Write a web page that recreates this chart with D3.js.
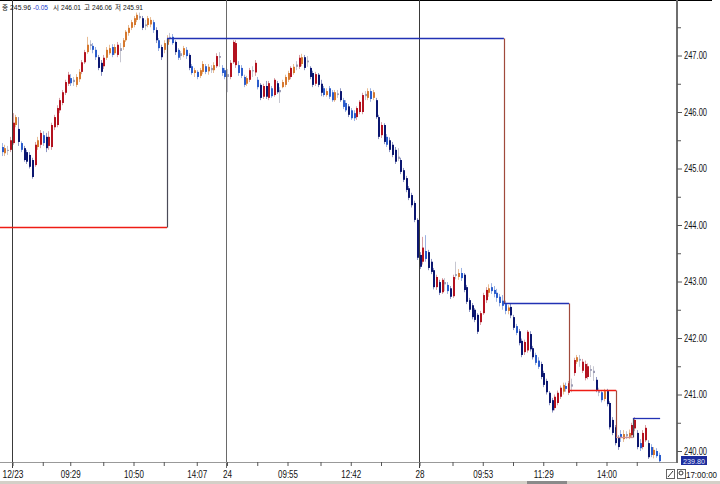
<!DOCTYPE html>
<html><head><meta charset="utf-8">
<script src="https://cdn.jsdelivr.net/npm/d3@7"></script>
<style>
html,body{margin:0;padding:0;background:#fff;overflow:hidden}
svg{display:block}
text{font-family:"Liberation Sans Narrow","Liberation Sans","Noto Sans CJK KR",sans-serif}
</style></head><body>
<svg id="c" width="720" height="484"></svg>
<script>
const open=[245.38,245.27,245.33,245.33,245.45,245.77,245.70,245.45,245.36,245.29,
245.24,245.15,245.06,245.38,245.42,245.59,245.56,245.40,245.38,245.73,
245.77,246.03,246.16,246.34,246.50,246.60,246.53,246.48,246.58,246.71,
246.88,247.06,247.17,247.17,247.10,246.97,246.87,246.81,246.96,247.04,
247.15,247.04,247.01,247.13,247.15,247.27,247.40,247.49,247.54,247.63,
247.70,247.66,247.52,247.54,247.55,247.59,247.45,247.27,247.15,247.10,
247.19,247.31,247.33,247.24,247.10,246.99,247.01,247.10,247.01,246.81,
246.69,246.71,246.64,246.71,246.81,246.72,246.78,246.74,246.81,246.99,
246.78,246.74,246.62,246.62,246.88,246.83,246.83,246.78,246.62,246.50,
246.57,246.74,246.70,246.57,246.48,246.27,246.46,246.25,246.42,246.30,
246.51,246.35,246.44,246.48,246.57,246.62,246.69,246.80,246.80,246.85,
246.97,246.88,246.78,246.69,246.50,246.66,246.50,246.42,246.30,246.42,
246.35,246.21,246.30,246.37,246.21,246.16,246.10,246.03,245.98,245.91,
246.00,246.00,246.28,246.25,246.37,246.25,246.21,245.91,245.59,245.77,
245.56,245.50,245.42,245.33,245.17,245.15,244.97,244.83,244.65,244.53,
244.39,244.09,243.47,243.35,243.54,243.52,243.35,243.20,242.90,242.99,
242.81,242.95,242.94,242.88,242.74,243.10,243.08,243.15,243.12,242.90,
242.67,242.58,242.50,242.41,242.28,242.44,242.67,242.80,242.90,242.85,
242.80,242.73,242.66,242.60,242.48,242.55,242.37,242.21,242.12,241.95,
241.75,241.78,242.07,241.82,241.70,241.60,241.54,241.38,241.24,241.03,
240.90,240.76,240.85,240.96,241.05,241.15,241.03,241.14,241.38,241.58,
241.63,241.42,241.29,241.31,241.45,241.42,241.26,241.06,241.04,240.92,
241.06,240.85,240.55,240.42,240.23,240.30,240.21,240.30,240.25,240.28,
240.40,240.32,240.14,240.07,240.19,240.14,240.07,239.93,240.00,239.93];
const high=[245.45,245.42,245.40,245.56,245.98,245.95,245.91,245.48,245.40,245.33,
245.29,245.19,245.47,245.56,245.68,245.66,245.63,245.66,245.81,245.95,
246.12,246.25,246.39,246.57,246.71,246.67,246.62,246.67,246.76,246.92,
247.10,247.33,247.27,247.22,247.15,247.01,246.92,247.01,247.15,247.19,
247.20,247.20,247.24,247.22,247.31,247.45,247.54,247.63,247.70,247.76,
247.76,247.70,247.63,247.70,247.68,247.63,247.50,247.31,247.19,247.27,
247.36,247.40,247.38,247.27,247.13,247.08,247.17,247.15,247.04,246.85,
246.78,246.74,246.78,246.90,246.85,246.85,246.83,246.88,247.04,247.06,
246.83,246.78,246.76,246.92,247.27,247.27,246.90,246.83,246.66,246.64,
246.78,246.81,246.92,246.62,246.51,246.50,246.55,246.55,246.46,246.60,
246.55,246.44,246.57,246.66,246.73,246.81,246.85,246.90,247.01,247.03,
247.01,246.99,246.81,246.73,246.71,246.69,246.57,246.46,246.42,246.46,
246.39,246.39,246.39,246.42,246.25,246.21,246.14,246.07,246.03,246.10,
246.21,246.34,246.37,246.42,246.42,246.39,246.25,245.95,245.82,245.80,
245.61,245.55,245.47,245.38,245.36,245.19,245.01,244.87,244.69,244.57,
244.43,244.12,243.52,243.79,243.82,243.56,243.40,243.24,243.12,243.03,
243.06,243.06,242.99,242.92,243.12,243.35,243.22,243.24,243.15,242.94,
242.71,242.62,242.53,242.44,242.48,242.80,242.90,242.95,242.97,242.92,
242.87,242.78,242.76,242.66,242.58,242.62,242.41,242.25,242.16,241.99,
241.97,242.14,242.12,241.86,241.74,241.66,241.58,241.42,241.28,241.06,
240.94,241.00,241.07,241.16,241.21,241.21,241.24,241.28,241.65,241.70,
241.70,241.63,241.60,241.55,241.52,241.50,241.31,241.12,241.08,241.10,
241.10,240.88,240.60,240.46,240.28,240.37,240.37,240.35,240.38,240.50,
240.60,240.37,240.21,240.37,240.46,240.19,240.12,240.07,240.05,239.97];
const low=[245.22,245.22,245.24,245.29,245.42,245.73,245.40,245.29,245.12,245.08,
245.00,244.82,245.03,245.33,245.36,245.40,245.29,245.33,245.33,245.68,
245.73,245.98,246.12,246.30,246.46,246.46,246.46,246.44,246.53,246.67,
246.85,247.03,247.10,247.04,246.92,246.74,246.64,246.76,246.92,247.01,
246.97,247.01,246.97,246.88,247.10,247.24,247.35,247.45,247.50,247.59,
247.63,247.45,247.45,247.50,247.50,247.40,247.22,247.08,246.92,247.04,
247.15,247.24,247.19,247.01,246.92,246.92,246.97,246.94,246.74,246.66,
246.62,246.58,246.60,246.67,246.67,246.66,246.69,246.69,246.78,246.80,
246.64,246.58,246.35,246.58,246.85,246.78,246.64,246.60,246.44,246.46,
246.53,246.62,246.64,246.40,246.21,246.23,246.23,246.21,246.25,246.27,
246.32,246.16,246.42,246.44,246.53,246.58,246.66,246.74,246.76,246.81,
246.74,246.80,246.58,246.44,246.46,246.44,246.28,246.27,246.27,246.23,
246.18,246.18,246.25,246.18,246.05,246.00,245.91,245.86,245.84,245.86,
245.96,245.96,246.21,246.21,246.18,246.21,245.88,245.52,245.54,245.43,
245.38,245.29,245.20,245.08,245.13,244.90,244.76,244.58,244.44,244.31,
244.05,243.38,243.22,243.30,243.35,243.20,243.13,242.86,242.85,242.76,
242.78,242.83,242.78,242.69,242.71,243.04,243.03,243.01,242.81,242.60,
242.46,242.33,242.28,242.07,242.23,242.41,242.62,242.73,242.78,242.72,
242.64,242.56,242.50,242.42,242.42,242.35,242.14,242.05,241.87,241.66,
241.70,241.74,241.76,241.62,241.52,241.45,241.27,241.13,241.00,240.81,
240.68,240.72,240.81,240.92,241.00,241.05,240.99,241.04,241.33,241.54,
241.49,241.38,241.25,241.27,241.31,241.24,241.04,240.97,240.86,240.88,
240.79,240.38,240.28,240.10,240.02,240.16,240.16,240.21,240.21,240.25,
240.35,240.03,240.00,240.03,240.16,239.86,239.89,239.87,239.88,239.80];
const close=[245.29,245.36,245.31,245.50,245.81,245.91,245.47,245.33,245.15,245.12,
245.03,244.85,245.42,245.50,245.63,245.45,245.36,245.56,245.77,245.91,
246.07,246.21,246.35,246.53,246.66,246.51,246.57,246.62,246.71,246.88,
247.06,247.19,247.20,247.10,246.97,246.78,246.71,246.96,247.10,247.13,
247.01,247.15,247.19,247.08,247.27,247.42,247.49,247.59,247.66,247.72,
247.66,247.49,247.55,247.66,247.63,247.45,247.27,247.13,246.97,247.22,
247.31,247.33,247.22,247.06,246.96,247.04,247.13,246.99,246.78,246.69,
246.74,246.62,246.74,246.85,246.71,246.80,246.74,246.83,246.99,246.96,
246.69,246.62,246.67,246.87,247.24,247.22,246.69,246.64,246.48,246.60,
246.74,246.72,246.87,246.44,246.25,246.46,246.27,246.51,246.28,246.57,
246.35,246.39,246.53,246.62,246.69,246.78,246.80,246.84,246.96,246.97,
246.78,246.91,246.62,246.48,246.67,246.48,246.34,246.30,246.37,246.27,
246.21,246.35,246.33,246.21,246.09,246.03,245.95,245.89,245.89,246.07,
246.18,246.30,246.32,246.37,246.23,246.35,245.91,245.56,245.77,245.47,
245.42,245.33,245.24,245.12,245.21,244.94,244.80,244.62,244.48,244.35,
244.09,243.42,243.26,243.60,243.40,243.24,243.17,242.90,243.08,242.80,
243.03,242.99,242.83,242.73,243.08,243.13,243.15,243.06,242.85,242.64,
242.50,242.37,242.32,242.11,242.44,242.76,242.85,242.88,242.83,242.78,
242.71,242.62,242.57,242.48,242.54,242.40,242.18,242.09,241.91,241.70,
241.93,242.11,241.80,241.66,241.56,241.49,241.31,241.17,241.04,240.85,
240.72,240.96,241.03,241.12,241.17,241.10,241.20,241.18,241.61,241.66,
241.60,241.58,241.54,241.50,241.42,241.38,241.08,241.03,240.90,241.06,
240.83,240.42,240.32,240.14,240.07,240.25,240.30,240.26,240.32,240.46,
240.55,240.07,240.05,240.32,240.41,239.89,239.93,240.02,239.91,239.82];

const priceTicks=[240,241,242,243,244,245,246,247];
const priceMinorTicks=[240.5,241.5,242.5,243.5,244.5,245.5,246.5,247.5];
const timeTickIdx=[4,15,25,37,48,59,71,82,93,104,116,127,138,152,164,175,186,197,209,220,231];
const timeLabelIdx=[4,25,48,71,82,104,127,152,175,197,220];
const timeLabels=["12/23","09:29","10:50","14:07","24","09:55","12:42","28","09:53","11:29","14:00"];
const dayIdx=[4,82,152];
const stepLevel=[243.97,247.31,242.62,241.08,240.25,240.58];
const stepStart=[-0.55,60.2,182.7,206.4,223.5,229.6];
const stepEndIdx=239.5;
const stepKind=["s","r","r","s","s","r"];
const headerText=["종","245.96","-0.05","시","246.01","고","246.06","저","245.91"];
const lastPrice="239.80";
const clockText="17:00:00";

const svg=d3.select("#c");
const N=close.length;
const x=d3.scaleLinear().domain([0,N-1]).range([1.5,1.5+2.75*(N-1)]);
const y=d3.scaleLinear().domain([240,247]).range([451,55.5]);
const plotR=677, plotB=462;
const RED="#ee1c14", BLUE="#2232b4";

svg.append("rect").attr("x",0).attr("y",0).attr("width",712).attr("height",1).attr("fill","#000");

svg.append("g").selectAll("line").data(dayIdx).join("line")
  .attr("x1",d=>Math.round(x(d))-0.5).attr("x2",d=>Math.round(x(d))-0.5)
  .attr("y1",0).attr("y2",468).attr("stroke",(d,i)=>i===1?"#6a6a6a":"#3a3a3a").attr("stroke-width",1);

function tone(i){const b=close[i]-open[i],a=Math.abs(b);if(a<0.05)return"g";if(b>0)return a>=0.15?"R":"r";return a>=0.15?"B":"b";}
const bodyCol={g:"#9c9cb4",R:"#b3121f",r:"#d6782e",B:"#0b1670",b:"#2a5ccc"};
const wickCol={g:"#c6c6d0",R:"#d8a0a6",r:"#e8bc94",B:"#8e96c4",b:"#9cb2e2"};
const idx=d3.range(N);
const gb=svg.append("g");
gb.selectAll("line").data(idx).join("line")
  .attr("x1",i=>Math.round(x(i))+0.5).attr("x2",i=>Math.round(x(i))+0.5)
  .attr("y1",i=>y(high[i])).attr("y2",i=>y(low[i]))
  .attr("stroke",i=>wickCol[tone(i)]).attr("stroke-width",1);
gb.selectAll("rect").data(idx).join("rect")
  .attr("x",i=>Math.round(x(i))).attr("width",2)
  .attr("y",i=>y(Math.max(open[i],close[i])))
  .attr("height",i=>Math.max(1,Math.abs(y(open[i])-y(close[i]))))
  .attr("fill",i=>bodyCol[tone(i)]);

const gs=svg.append("g").attr("fill","none");
const segs=stepLevel.map((lv,k)=>({lv,k,x0:Math.max(0,x(stepStart[k])),x1:k<stepLevel.length-1?x(stepStart[k+1]):x(stepEndIdx)}));
segs.filter(s=>s.k>0).forEach(s=>{
  const up=s.lv>stepLevel[s.k-1];
  gs.append("line").attr("x1",Math.round(s.x0)+0.5).attr("x2",Math.round(s.x0)+0.5)
    .attr("y1",Math.round(y(stepLevel[s.k-1]))+0.5).attr("y2",Math.round(y(s.lv))+0.5)
    .attr("stroke",up?"#4a4a58":"#a04a3c").attr("stroke-width",1.2);
});
segs.forEach(s=>{
  gs.append("line").attr("x1",s.x0).attr("x2",s.x1).attr("y1",Math.round(y(s.lv))+0.5).attr("y2",Math.round(y(s.lv))+0.5)
    .attr("stroke",stepKind[s.k]==="s"?(s.k===4?"#d09090":RED):BLUE).attr("stroke-width",1.3);
});

svg.append("line").attr("x1",0).attr("x2",plotR).attr("y1",plotB+0.5).attr("y2",plotB+0.5).attr("stroke","#999");
svg.append("line").attr("x1",plotR).attr("x2",plotR).attr("y1",0).attr("y2",plotB+1).attr("stroke","#6e6e6e").attr("stroke-width",2);

const ga=svg.append("g").attr("transform",`translate(${plotR},0)`)
  .call(d3.axisRight(y).tickValues(priceTicks).tickSize(5).tickPadding(2).tickFormat(d3.format(".2f")));
ga.select(".domain").remove();
ga.selectAll(".tick line").attr("stroke","#555");
ga.selectAll("text").attr("font-size","10px").attr("fill","#111").attr("textLength",23).attr("lengthAdjust","spacingAndGlyphs");
const gm=svg.append("g").attr("transform",`translate(${plotR},0)`)
  .call(d3.axisRight(y).tickValues(priceMinorTicks).tickSize(4).tickFormat(""));
gm.select(".domain").remove();
gm.selectAll(".tick line").attr("stroke","#555");

const lblMap=new Map(timeLabelIdx.map((d,i)=>[d,timeLabels[i]]));
const gx=svg.append("g").attr("transform",`translate(0,${plotB})`)
  .call(d3.axisBottom(x).tickValues(timeTickIdx).tickSize(4).tickPadding(5).tickFormat(d=>lblMap.get(d)||""));
gx.select(".domain").remove();
gx.selectAll(".tick line").attr("stroke","#555");
gx.selectAll("text").attr("font-size","10.5px").attr("fill","#111")
  .each(function(){const t=d3.select(this).text();if(t){d3.select(this).attr("textLength",t.length===2?9:(t.indexOf("/")>=0?21:20)).attr("lengthAdjust","spacingAndGlyphs");}});

const hx=[2,10,33,53,61,84,92,115,123];
const hw=[6,21,15,6,20,6,20,6,20];
headerText.forEach((t,i)=>{
  const kor=(i===0||i===3||i===5||i===7);
  svg.append("text").attr("x",hx[i]).attr("y",10).attr("font-size",kor?"7px":"8px")
    .attr("fill",i===2?"#1a3ad0":"#111").text(t)
    .attr("textLength",hw[i]).attr("lengthAdjust","spacingAndGlyphs");
});

svg.append("rect").attr("x",681).attr("y",456).attr("width",26).attr("height",9).attr("fill","#1c2c9c");
svg.append("text").attr("x",683).attr("y",464).attr("font-size","8px").attr("fill","#e4eaff")
  .attr("textLength",22).attr("lengthAdjust","spacingAndGlyphs").text(lastPrice);

svg.append("rect").attr("x",666.5).attr("y",469.5).attr("width",8).attr("height",9).attr("fill","#fff").attr("stroke","#666");
svg.append("line").attr("x1",668).attr("y1",477).attr("x2",673).attr("y2",471).attr("stroke","#333");
svg.append("rect").attr("x",677.5).attr("y",469.5).attr("width",8).attr("height",9).attr("fill","#fff").attr("stroke","#666");
svg.append("circle").attr("cx",681).attr("cy",473).attr("r",2).attr("fill","none").attr("stroke","#333");
svg.append("text").attr("x",686).attr("y",478).attr("font-size","9px").attr("fill","#111")
  .attr("textLength",31).attr("lengthAdjust","spacingAndGlyphs").text(clockText);

svg.append("rect").attr("x",0).attr("y",481).attr("width",720).attr("height",3).attr("fill","#d4d0c8");
svg.append("rect").attr("x",527).attr("y",481).attr("width",40).attr("height",3).attr("fill","#8a8a8a");
</script>
</body></html>
